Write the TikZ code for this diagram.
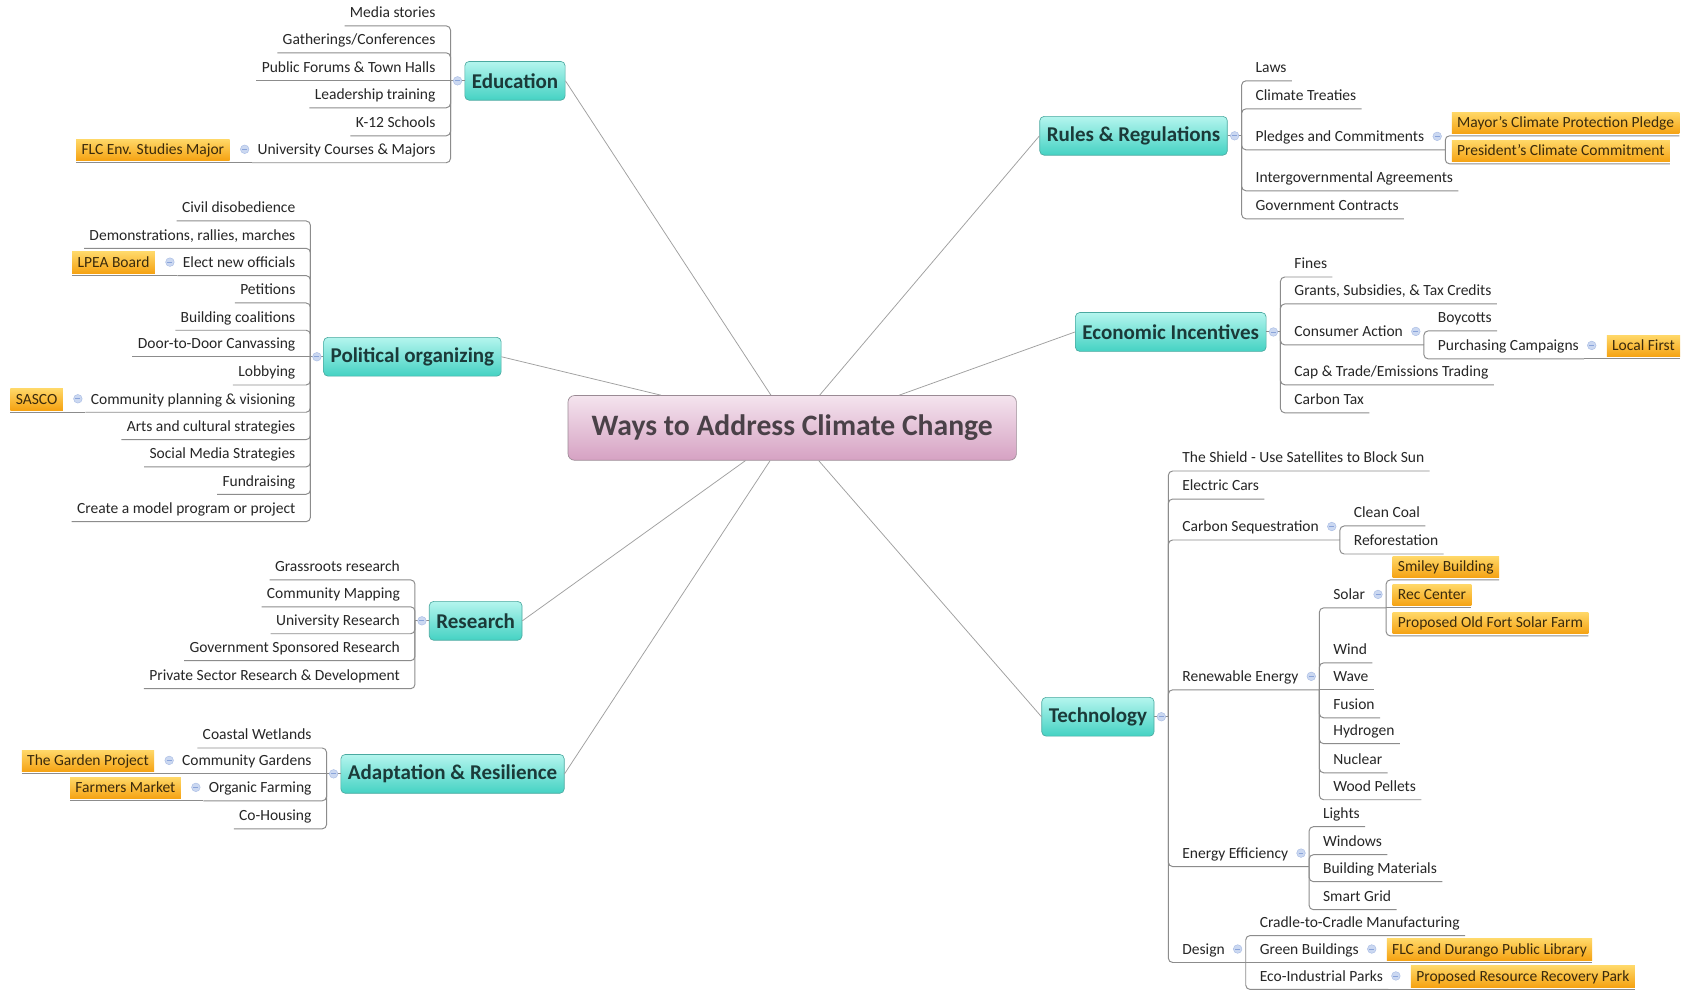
\documentclass[tikz,border=0pt]{standalone}
\usepackage{fontspec}
\setmainfont{Carlito}
\usetikzlibrary{calc}
\definecolor{linecol}{HTML}{8C8C8C}
\definecolor{maincol}{HTML}{A0A0A0}
\definecolor{toptop}{HTML}{B4F5EE}
\definecolor{topbot}{HTML}{45D2C3}
\definecolor{topborder}{HTML}{4AA9A0}
\definecolor{toptext}{HTML}{1B3A39}
\definecolor{tagtop}{HTML}{FFD868}
\definecolor{tagbot}{HTML}{F5A212}
\definecolor{tagtext}{HTML}{3A2A0C}
\definecolor{leaftext}{HTML}{262626}
\definecolor{centop}{HTML}{F4E4EE}
\definecolor{cenbot}{HTML}{D6A2C3}
\definecolor{cenborder}{HTML}{9A8A94}
\definecolor{centext}{HTML}{4A4148}
\definecolor{collfill}{HTML}{CBD8F1}
\definecolor{collline}{HTML}{A7BBE4}
\definecolor{collminus}{HTML}{8AA4DA}
\newcommand\brL[2]{\draw[conn] (#1.south west) -- (#1.south west -| #2) -- (#2);}
\newcommand\stL[2]{\draw[conn] (#1.south west) -- (#1.south west -| #2);}
\newcommand\brR[2]{\draw[conn] (#2) -- (#2 |- #1.south) -- (#1.south east);}
\newcommand\stR[2]{\draw[conn] (#2 |- #1.south) -- (#1.south east);}
\begin{document}
\begin{tikzpicture}[x=1pt,y=1pt,
  leafR/.style={anchor=south west, inner xsep=5pt, inner ysep=0pt, outer sep=0pt, text height=10pt, text depth=7.5pt, font=\fontsize{14.4}{16}\selectfont, text=leaftext},
  leafL/.style={leafR, anchor=south east},
  tagbox/.style={top color=tagtop, bottom color=tagbot, inner xsep=5pt, inner ysep=0pt, outer xsep=0pt, outer ysep=2pt, text height=14.5pt, text depth=5.5pt, font=\fontsize{14.4}{16}\selectfont, text=tagtext},
  topic/.style={rounded corners=4pt, top color=toptop, bottom color=topbot, draw=topborder, line width=0.6pt, inner xsep=6.5pt, minimum height=36pt, font=\fontsize{19.5}{22}\selectfont\bfseries, text=toptext},
  central/.style={rounded corners=6pt, top color=centop, bottom color=cenbot, draw=cenborder, line width=0.6pt, minimum width=416pt, minimum height=60pt, font=\fontsize{27.5}{30}\selectfont\bfseries, text=centext},
  conn/.style={draw=linecol, line width=0.9pt, rounded corners=4pt},
  mainline/.style={draw=maincol, line width=0.7pt},
  coll/.style={circle, inner sep=0pt, minimum size=8pt, fill=collfill, draw=collline, line width=0.4pt, path picture={\draw[collminus, line width=0.8pt] ([xshift=-2.3pt]path picture bounding box.center) -- ([xshift=2.3pt]path picture bounding box.center);}}
]
\fill[white] (0,0) rectangle (1568,-920);
\useasboundingbox (0,0) rectangle (1568,-920);

% central
\node[central] (cen) at (735,-397) {Ways to Address Climate Change};

% ---------------- Education
\coordinate (eduJ) at (418,-75);
\node[topic,anchor=west] (edu) at ([xshift=13pt]eduJ) {Education};
\node[leafL] (e1) at (409,-24) {Media stories};
\node[leafL] (e2) at (409,-49) {Gatherings/Conferences};
\node[leafL] (e3) at (409,-75) {Public Forums \& Town Halls};
\node[leafL] (e4) at (409,-100) {Leadership training};
\node[leafL] (e5) at (409,-126) {K-12 Schools};
\node[leafL] (e6) at (409,-151) {University Courses \& Majors};
\node[tagbox,anchor=south east] (e6t) at ([xshift=-21pt]e6.south west) {FLC Env. Studies Major};
\brL{e1}{eduJ} \brL{e2}{eduJ} \stL{e3}{eduJ} \brL{e4}{eduJ} \brL{e5}{eduJ} \brL{e6}{eduJ}
\draw[conn] (e6t.south west) -- (e6.south west);
\node[coll] (e6c) at ([shift={(-7pt,12.5pt)}]e6.south west) {};
\draw[conn] (edu.west) -- (eduJ);
\node[coll] (educ) at ([xshift=6.5pt]eduJ) {};

% ---------------- Political organizing
\coordinate (polJ) at (288,-331);
\node[topic,anchor=west] (pol) at ([xshift=12pt]polJ) {Political organizing};
\node[leafL] (p1) at (279,-205) {Civil disobedience};
\node[leafL] (p2) at (279,-230.4) {Demonstrations, rallies, marches};
\node[leafL] (p3) at (279,-255.7) {Elect new officials};
\node[leafL] (p4) at (279,-281.1) {Petitions};
\node[leafL] (p5) at (279,-306.4) {Building coalitions};
\node[leafL] (p6) at (279,-331) {Door-to-Door Canvassing};
\node[leafL] (p7) at (279,-357.2) {Lobbying};
\node[leafL] (p8) at (279,-382.5) {Community planning \& visioning};
\node[leafL] (p9) at (279,-407.9) {Arts and cultural strategies};
\node[leafL] (p10) at (279,-433.2) {Social Media Strategies};
\node[leafL] (p11) at (279,-458.6) {Fundraising};
\node[leafL] (p12) at (279,-484) {Create a model program or project};
\node[tagbox,anchor=south east] (p3t) at ([xshift=-21pt]p3.south west) {LPEA Board};
\node[tagbox,anchor=south east] (p8t) at ([xshift=-21pt]p8.south west) {SASCO};
\brL{p1}{polJ} \brL{p2}{polJ} \brL{p3}{polJ} \brL{p4}{polJ} \brL{p5}{polJ} \stL{p6}{polJ}
\brL{p7}{polJ} \brL{p8}{polJ} \brL{p9}{polJ} \brL{p10}{polJ} \brL{p11}{polJ} \brL{p12}{polJ}
\draw[conn] (p3t.south west) -- (p3.south west);
\draw[conn] (p8t.south west) -- (p8.south west);
\node[coll] (p3c) at ([shift={(-7pt,12.5pt)}]p3.south west) {};
\node[coll] (p8c) at ([shift={(-7pt,12.5pt)}]p8.south west) {};
\draw[conn] (pol.west) -- (polJ);
\node[coll] (polc) at ([xshift=6pt]polJ) {};

% ---------------- Research
\coordinate (resJ) at (385,-576);
\node[topic,anchor=west] (res) at ([xshift=13pt]resJ) {Research};
\node[leafL] (r1) at (376,-538) {Grassroots research};
\node[leafL] (r2) at (376,-563) {Community Mapping};
\node[leafL] (r3) at (376,-588) {University Research};
\node[leafL] (r4) at (376,-613) {Government Sponsored Research};
\node[leafL] (r5) at (376,-639) {Private Sector Research \& Development};
\brL{r1}{resJ} \brL{r2}{resJ} \brL{r3}{resJ} \brL{r4}{resJ} \brL{r5}{resJ}
\draw[conn] (res.west) -- (resJ);
\node[coll] (resc) at ([xshift=6.5pt]resJ) {};

% ---------------- Adaptation & Resilience
\coordinate (adJ) at (303,-718);
\node[topic,anchor=west] (adapt) at ([xshift=13pt]adJ) {Adaptation \& Resilience};
\node[leafL] (a1) at (294,-694) {Coastal Wetlands};
\node[leafL] (a2) at (294,-718) {Community Gardens};
\node[leafL] (a3) at (294,-743) {Organic Farming};
\node[leafL] (a4) at (294,-769) {Co-Housing};
\node[tagbox,anchor=south east] (a2t) at ([xshift=-21pt]a2.south west) {The Garden Project};
\node[tagbox,anchor=south east] (a3t) at ([xshift=-21pt]a3.south west) {Farmers Market};
\brL{a1}{adJ} \stL{a2}{adJ} \brL{a3}{adJ} \brL{a4}{adJ}
\draw[conn] (a2t.south west) -- (a2.south west);
\draw[conn] (a3t.south west) -- (a3.south west);
\node[coll] (a2c) at ([shift={(-7pt,12.5pt)}]a2.south west) {};
\node[coll] (a3c) at ([shift={(-7pt,12.5pt)}]a3.south west) {};
\draw[conn] (adapt.west) -- (adJ);
\node[coll] (adc) at ([xshift=6.5pt]adJ) {};

% ---------------- Rules & Regulations
\coordinate (ruJ) at (1152,-126);
\node[topic,anchor=east] (rules) at ([xshift=-13pt]ruJ) {Rules \& Regulations};
\node[leafR] (u1) at (1160,-75) {Laws};
\node[leafR] (u2) at (1160,-101) {Climate Treaties};
\node[leafR] (u3) at (1160,-139) {Pledges and Commitments};
\node[leafR] (u4) at (1160,-177) {Intergovernmental Agreements};
\node[leafR] (u5) at (1160,-203) {Government Contracts};
\coordinate (u3J) at ([xshift=14.5pt]u3.south east);
\node[tagbox,anchor=south west] (u3a) at ([shift={(6pt,13pt)}]u3J) {Mayor\char39 s Climate Protection Pledge};
\node[tagbox,anchor=south west] (u3b) at ([shift={(6pt,-13pt)}]u3J) {President\char39 s Climate Commitment};
\brR{u1}{ruJ} \brR{u2}{ruJ} \brR{u4}{ruJ} \brR{u5}{ruJ}
\draw[conn] (ruJ) -- (ruJ |- u3J) -- (u3J);
\brR{u3a}{u3J} \brR{u3b}{u3J}
\node[coll] (u3c) at ([shift={(7pt,12.5pt)}]u3.south east) {};
\draw[conn] (rules.east) -- (ruJ);
\node[coll] (ruc) at ([xshift=-6.5pt]ruJ) {};

% ---------------- Economic Incentives
\coordinate (ecJ) at (1188,-308);
\node[topic,anchor=east] (econ) at ([xshift=-13pt]ecJ) {Economic Incentives};
\node[leafR] (c1) at (1196,-257) {Fines};
\node[leafR] (c2) at (1196,-282) {Grants, Subsidies, \& Tax Credits};
\node[leafR] (c3) at (1196,-320) {Consumer Action};
\node[leafR] (c4) at (1196,-357) {Cap \& Trade/Emissions Trading};
\node[leafR] (c5) at (1196,-383) {Carbon Tax};
\coordinate (c3J) at ([xshift=14.5pt]c3.south east);
\node[leafR] (c3a) at ([shift={(8pt,13pt)}]c3J) {Boycotts};
\node[leafR] (c3b) at ([shift={(8pt,-13pt)}]c3J) {Purchasing Campaigns};
\node[tagbox,anchor=south west] (c3bt) at ([xshift=21pt]c3b.south east) {Local First};
\brR{c1}{ecJ} \brR{c2}{ecJ} \brR{c4}{ecJ} \brR{c5}{ecJ}
\draw[conn] (ecJ) -- (ecJ |- c3J) -- (c3J);
\brR{c3a}{c3J} \brR{c3b}{c3J}
\draw[conn] (c3b.south east) -- (c3bt.south east);
\node[coll] (c3c) at ([shift={(7pt,12.5pt)}]c3.south east) {};
\node[coll] (c3bc) at ([shift={(7pt,12.5pt)}]c3b.south east) {};
\draw[conn] (econ.east) -- (ecJ);
\node[coll] (ecc) at ([xshift=-6.5pt]ecJ) {};

% ---------------- Technology
\coordinate (teJ) at (1084,-665);
\node[topic,anchor=east] (tech) at ([xshift=-13pt]teJ) {Technology};
\node[leafR] (t1) at (1092,-437) {The Shield - Use Satellites to Block Sun};
\node[leafR] (t2) at (1092,-463) {Electric Cars};
\node[leafR] (t3) at (1092,-501) {Carbon Sequestration};
\node[leafR] (t4) at (1092,-640) {Renewable Energy};
\node[leafR] (t5) at (1092,-804) {Energy Efficiency};
\node[leafR] (t6) at (1092,-893) {Design};
\brR{t1}{teJ} \brR{t2}{teJ}
% carbon sequestration
\coordinate (t3J) at ([xshift=14.5pt]t3.south east);
\node[leafR] (t3a) at ([shift={(8pt,13pt)}]t3J) {Clean Coal};
\node[leafR] (t3b) at ([shift={(8pt,-13pt)}]t3J) {Reforestation};
\draw[conn] (teJ) -- (teJ |- t3J) -- (t3J);
\brR{t3a}{t3J} \brR{t3b}{t3J}
\node[coll] (t3c) at ([shift={(7pt,12.5pt)}]t3.south east) {};
% renewable energy
\coordinate (t4J) at ([xshift=14.5pt]t4.south east);
\node[leafR] (t4a) at ([shift={(8pt,76pt)}]t4J) {Solar};
\node[leafR] (t4b) at ([shift={(8pt,25pt)}]t4J) {Wind};
\node[leafR] (t4c) at ([shift={(8pt,0pt)}]t4J) {Wave};
\node[leafR] (t4d) at ([shift={(8pt,-26pt)}]t4J) {Fusion};
\node[leafR] (t4e) at ([shift={(8pt,-50pt)}]t4J) {Hydrogen};
\node[leafR] (t4f) at ([shift={(8pt,-77pt)}]t4J) {Nuclear};
\node[leafR] (t4g) at ([shift={(8pt,-102pt)}]t4J) {Wood Pellets};
\draw[conn] (teJ) -- (teJ |- t4J) -- (t4J);
\brR{t4b}{t4J} \stR{t4c}{t4J} \brR{t4d}{t4J} \brR{t4e}{t4J} \brR{t4f}{t4J} \brR{t4g}{t4J}
\node[coll] (t4c0) at ([shift={(7pt,12.5pt)}]t4.south east) {};
% solar
\coordinate (t4aJ) at ([xshift=14.5pt]t4a.south east);
\node[tagbox,anchor=south west] (s1) at ([shift={(6pt,26pt)}]t4aJ) {Smiley Building};
\node[tagbox,anchor=south west] (s2) at ([shift={(6pt,0pt)}]t4aJ) {Rec Center};
\node[tagbox,anchor=south west] (s3) at ([shift={(6pt,-26pt)}]t4aJ) {Proposed Old Fort Solar Farm};
\draw[conn] (t4J) -- (t4J |- t4aJ) -- (t4aJ);
\brR{s1}{t4aJ} \stR{s2}{t4aJ} \brR{s3}{t4aJ}
\node[coll] (t4ac) at ([shift={(7pt,12.5pt)}]t4a.south east) {};
% energy efficiency
\coordinate (t5J) at ([xshift=14.5pt]t5.south east);
\node[leafR] (t5a) at ([shift={(8pt,37pt)}]t5J) {Lights};
\node[leafR] (t5b) at ([shift={(8pt,11pt)}]t5J) {Windows};
\node[leafR] (t5c) at ([shift={(8pt,-14pt)}]t5J) {Building Materials};
\node[leafR] (t5d) at ([shift={(8pt,-40pt)}]t5J) {Smart Grid};
\draw[conn] (teJ) -- (teJ |- t5J) -- (t5J);
\brR{t5a}{t5J} \brR{t5b}{t5J} \brR{t5c}{t5J} \brR{t5d}{t5J}
\node[coll] (t5c0) at ([shift={(7pt,12.5pt)}]t5.south east) {};
% design
\coordinate (t6J) at ([xshift=14.5pt]t6.south east);
\node[leafR] (t6a) at ([shift={(8pt,25pt)}]t6J) {Cradle-to-Cradle Manufacturing};
\node[leafR] (t6b) at ([shift={(8pt,0pt)}]t6J) {Green Buildings};
\node[leafR] (t6c) at ([shift={(8pt,-25pt)}]t6J) {Eco-Industrial Parks};
\node[tagbox,anchor=south west] (t6bt) at ([xshift=21pt]t6b.south east) {FLC and Durango Public Library};
\node[tagbox,anchor=south west] (t6ct) at ([xshift=21pt]t6c.south east) {Proposed Resource Recovery Park};
\draw[conn] (teJ) -- (teJ |- t6J) -- (t6J);
\brR{t6a}{t6J} \stR{t6b}{t6J} \brR{t6c}{t6J}
\draw[conn] (t6b.south east) -- (t6bt.south east);
\draw[conn] (t6c.south east) -- (t6ct.south east);
\node[coll] (t6c0) at ([shift={(7pt,12.5pt)}]t6.south east) {};
\node[coll] (t6bc) at ([shift={(7pt,12.5pt)}]t6b.south east) {};
\node[coll] (t6cc) at ([shift={(7pt,12.5pt)}]t6c.south east) {};
\draw[conn] (tech.east) -- (teJ);
\node[coll] (tec) at ([xshift=-6.5pt]teJ) {};

% ---------------- central connectors
\draw[mainline] (cen.123.7) -- (edu.east);
\draw[mainline] (cen.50.2) -- (rules.west);
\draw[mainline] (cen.17.9) -- (econ.west);
\draw[mainline] (cen.166.7) -- (pol.east);
\draw[mainline] (cen.215.5) -- (res.east);
\draw[mainline] (cen.236.3) -- (adapt.east);
\draw[mainline] (cen.309.8) -- (tech.west);
\end{tikzpicture}
\end{document}
